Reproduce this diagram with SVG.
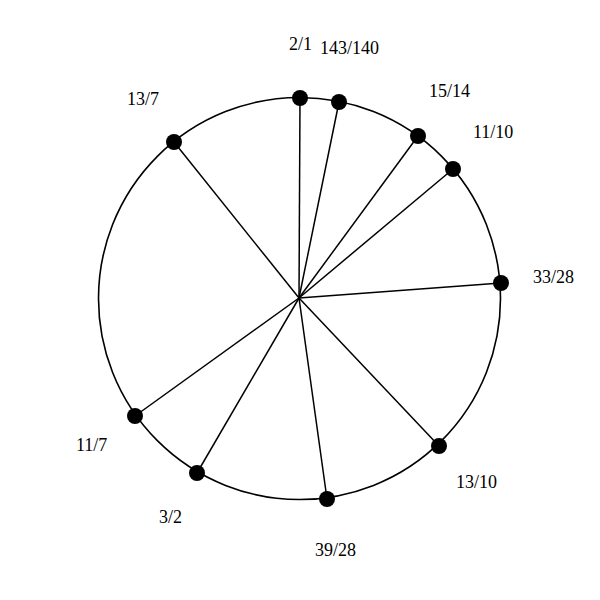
<svg xmlns="http://www.w3.org/2000/svg" width="600" height="600" viewBox="0 0 600 600">
<style>
.ring{fill:none;stroke:#000;stroke-width:1.6}
.spoke{stroke:#000;stroke-width:1.5}
.dot{fill:#000}
text{font-family:"Liberation Serif","Times New Roman",serif;font-size:18px;fill:#000}
</style>
<rect width="600" height="600" fill="#fff"/>
<circle class="ring" cx="299.5" cy="298.5" r="201"/>
<g id="connectors">
<line class="spoke" x1="299" y1="298" x2="300" y2="98"/>
<line class="spoke" x1="299" y1="298" x2="339" y2="102"/>
<line class="spoke" x1="299" y1="298" x2="418" y2="136"/>
<line class="spoke" x1="299" y1="298" x2="453" y2="169"/>
<line class="spoke" x1="299" y1="298" x2="501" y2="283"/>
<line class="spoke" x1="299" y1="298" x2="439" y2="446"/>
<line class="spoke" x1="299" y1="298" x2="327" y2="499"/>
<line class="spoke" x1="299" y1="298" x2="197" y2="473"/>
<line class="spoke" x1="299" y1="298" x2="135" y2="416"/>
<line class="spoke" x1="299" y1="298" x2="174" y2="142"/>
</g>
<g id="n_2_1"><circle class="dot" cx="300" cy="98" r="8"/><text x="289" y="50">2/1</text></g>
<g id="n_143_140"><circle class="dot" cx="339" cy="102" r="8"/><text x="320" y="54">143/140</text></g>
<g id="n_15_14"><circle class="dot" cx="418" cy="136" r="8"/><text x="429" y="97">15/14</text></g>
<g id="n_11_10"><circle class="dot" cx="453" cy="169" r="8"/><text x="473" y="138">11/10</text></g>
<g id="n_33_28"><circle class="dot" cx="501" cy="283" r="8"/><text x="533" y="283">33/28</text></g>
<g id="n_13_10"><circle class="dot" cx="439" cy="446" r="8"/><text x="456" y="488">13/10</text></g>
<g id="n_39_28"><circle class="dot" cx="327" cy="499" r="8"/><text x="315" y="556">39/28</text></g>
<g id="n_3_2"><circle class="dot" cx="197" cy="473" r="8"/><text x="159" y="523">3/2</text></g>
<g id="n_11_7"><circle class="dot" cx="135" cy="416" r="8"/><text x="76" y="451">11/7</text></g>
<g id="n_13_7"><circle class="dot" cx="174" cy="142" r="8"/><text x="127" y="105">13/7</text></g>
</svg>
